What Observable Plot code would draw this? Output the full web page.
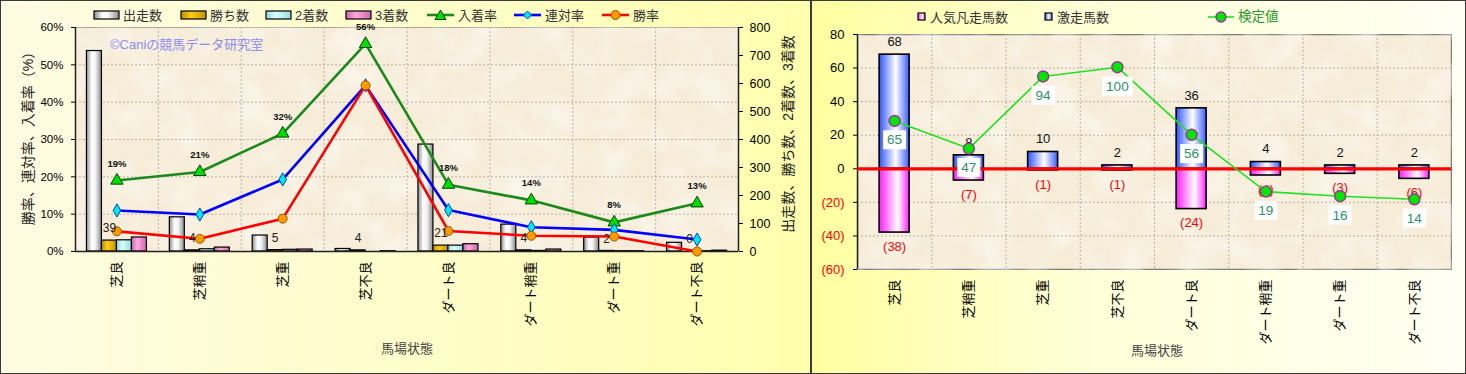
<!DOCTYPE html>
<html><head><meta charset="utf-8">
<script src="https://cdn.jsdelivr.net/npm/d3@7"></script>
<script src="https://cdn.jsdelivr.net/npm/@observablehq/plot@0.6"></script>
<style>
html,body{margin:0;padding:0;background:#fff;}
body{font-family:"Liberation Sans","Noto Sans CJK JP",sans-serif;}
#wrap{position:relative;width:1466px;height:374px;overflow:hidden;}
.panel{position:absolute;top:0;height:374px;}
.border{position:absolute;top:0;height:372px;border:1px solid #3a3a3a;pointer-events:none;}
.abs{position:absolute;white-space:nowrap;line-height:1;}
.rot{transform:translate(-50%,-50%) rotate(-90deg);}
.ctr{transform:translate(-50%,-50%);}
.leg{position:absolute;white-space:nowrap;font-size:13px;color:#333;line-height:1;display:flex;align-items:center;}
.leg svg{display:block;margin-right:3px;}
</style>
</head><body>
<svg width="0" height="0" style="position:absolute">
  <defs>
    <linearGradient id="gWhite" x1="0" x2="1" y1="0" y2="0">
      <stop offset="0" stop-color="#8c8c8c"/><stop offset="0.35" stop-color="#ffffff"/>
      <stop offset="0.6" stop-color="#f2f2f2"/><stop offset="1" stop-color="#8a8a8a"/>
    </linearGradient>
    <linearGradient id="gGold" x1="0" x2="1" y1="0" y2="0">
      <stop offset="0" stop-color="#b88d00"/><stop offset="0.4" stop-color="#ffcc1a"/>
      <stop offset="1" stop-color="#c29400"/>
    </linearGradient>
    <linearGradient id="gCyan" x1="0" x2="1" y1="0" y2="0">
      <stop offset="0" stop-color="#8fd8d8"/><stop offset="0.4" stop-color="#d8ffff"/>
      <stop offset="1" stop-color="#94dcdc"/>
    </linearGradient>
    <linearGradient id="gPink" x1="0" x2="1" y1="0" y2="0">
      <stop offset="0" stop-color="#cc66aa"/><stop offset="0.4" stop-color="#ffaadd"/>
      <stop offset="1" stop-color="#cc66aa"/>
    </linearGradient>
    <linearGradient id="gBlue" x1="0" x2="1" y1="0" y2="0">
      <stop offset="0" stop-color="#2f55ff"/><stop offset="0.55" stop-color="#ffffff"/>
      <stop offset="1" stop-color="#3a5cff"/>
    </linearGradient>
    <linearGradient id="gMag" x1="0" x2="1" y1="0" y2="0">
      <stop offset="0" stop-color="#ff1cff"/><stop offset="0.62" stop-color="#ffffff"/>
      <stop offset="1" stop-color="#ff22ff"/>
    </linearGradient>
    <filter id="paper" x="0" y="0" width="1" height="1">
      <feTurbulence type="fractalNoise" baseFrequency="0.03" numOctaves="3" seed="7" result="n"/>
      <feColorMatrix in="n" type="matrix" values="0 0 0 0 1  0 0 0 0 0.99  0 0 0 0 0.96  1.1 0 0 0 -0.42" result="spots"/>
      <feComposite in="spots" in2="SourceGraphic" operator="atop"/>
    </filter>
  </defs>
</svg>
<div id="wrap">
  <div class="panel" id="left" style="left:0;width:811px;background:linear-gradient(to right,#fffbe2 0%,#fffdc8 55%,#ffffae 100%);"></div>
  <div class="panel" id="right" style="left:811px;width:655px;background:linear-gradient(to right,#ffffa0 0%,#ffffd6 40%,#fffff4 100%);"></div>
</div>
<script>
// ---------- data ----------
const categories = ["芝良","芝稍重","芝重","芝不良","ダート良","ダート稍重","ダート重","ダート不良"];
// left chart: counts (right axis)
const starts  = [716, 122, 57, 9, 382, 96, 50, 31];   // 出走数
const wins    = [39, 4, 5, 4, 21, 4, 2, 0];           // 勝ち数
const seconds = [40, 8, 6, 0, 21, 2, 1, 1];           // 2着数
const thirds  = [50, 14, 7, 1, 26, 7, 1, 3];          // 3着数
// left chart: rates in % (left axis)
const showRate  = [19.0, 21.3, 31.6, 55.6, 17.9, 13.7, 7.8, 12.9]; // 入着率
const placeRate = [11.0, 9.9, 19.3, 44.5, 11.1, 6.5, 5.8, 3.2];    // 連対率
const winRate   = [5.4, 3.4, 8.8, 44.5, 5.5, 4.2, 4.0, 0];          // 勝率
const pctTicks   = [0, 10, 20, 30, 40, 50, 60];
const countTicks = [0, 100, 200, 300, 400, 500, 600, 700, 800];
// right chart
const upsets = [68, 8, 10, 2, 36, 4, 2, 2];       // 激走馬数
const flops  = [38, 7, 1, 1, 24, 4, 3, 6];        // 人気凡走馬数
const testValues = [65, 47, 94, 100, 56, 19, 16, 14]; // 検定値
const rightPosTicks = [0, 20, 40, 60, 80];
const rightNegTicks = [-20, -40, -60];

// ---------- helpers ----------
const FONT = '"Liberation Sans","Noto Sans CJK JP",sans-serif';
const countMax = 800, pctMax = 60;
const c2p = c => c * pctMax / countMax; // secondary (count) axis -> primary (%) axis
const GRID = "#b9b2a4";

const wrap = document.getElementById("wrap");
function addText(txt, x, y, cls, css) {
  const d = document.createElement("div");
  d.className = "abs " + cls;
  d.textContent = txt;
  d.style.left = x + "px"; d.style.top = y + "px";
  Object.assign(d.style, css || {});
  wrap.appendChild(d);
  return d;
}
function addLegend(x, y, svg, label, css) {
  const d = document.createElement("div");
  d.className = "leg";
  d.style.left = x + "px"; d.style.top = (y - 8) + "px"; d.style.height = "16px";
  d.innerHTML = svg + `<span>${label}</span>`;
  Object.assign(d.style, css || {});
  wrap.appendChild(d);
}
function texture(svg) {
  const f = svg.querySelector('[aria-label="frame"]');
  if (f) f.setAttribute("filter", "url(#paper)");
}

// ---------- LEFT CHART ----------
const L = {w: 811, h: 374, ml: 75, mr: 73, mt: 27, mb: 123};
const bwL = (L.w - L.ml - L.mr) / categories.length;
const rowsL = categories.map((c, i) => ({c, starts: starts[i], wins: wins[i], seconds: seconds[i], thirds: thirds[i],
  show: showRate[i], place: placeRate[i], win: winRate[i]}));
const subW = 15;
function subBar(key, idx, fill) {
  const left = bwL / 2 - 2 * subW + subW * idx;
  return Plot.barY(rowsL, {x: "c", y1: 0, y2: d => c2p(d[key]), fill, stroke: "#000", strokeWidth: 1.2,
    insetLeft: left, insetRight: bwL - left - subW});
}
const leftPlot = Plot.plot({
  width: L.w, height: L.h, marginLeft: L.ml, marginRight: L.mr, marginTop: L.mt, marginBottom: L.mb,
  style: {background: "transparent", fontFamily: FONT, fontSize: "12px", color: "#000", overflow: "visible"},
  x: {type: "band", domain: categories, padding: 0, round: false, axis: null},
  y: {domain: [0, pctMax], axis: null},
  marks: [
    Plot.frame({fill: "#f6ecd8", stroke: "#9a9a9a"}),
    Plot.gridY(pctTicks.slice(1), {stroke: GRID, strokeOpacity: 1, strokeDasharray: "2,2"}),
    Plot.ruleX(categories.slice(0, -1), {dx: bwL / 2, stroke: GRID, strokeDasharray: "2,2"}),
    subBar("starts", 0, "url(#gWhite)"),
    subBar("wins", 1, "url(#gGold)"),
    subBar("seconds", 2, "url(#gCyan)"),
    subBar("thirds", 3, "url(#gPink)"),
    Plot.ruleY([0], {stroke: "#222", strokeWidth: 1.5}),
    Plot.ruleX([categories[0]], {dx: -bwL / 2, stroke: "#222", strokeWidth: 1.5}),
    Plot.ruleX([categories[categories.length - 1]], {dx: bwL / 2, stroke: "#222", strokeWidth: 1.5}),
    Plot.axisY(pctTicks, {anchor: "left", tickFormat: d => d + "%", tickSize: 4, tickPadding: 8, fontSize: 11.5, label: null}),
    Plot.axisY(countTicks.map(c2p), {anchor: "right", tickFormat: d => String(Math.round(d * countMax / pctMax)), tickSize: 4, tickPadding: 7, fontSize: 12.5, label: null}),
    Plot.axisX({tickRotate: -90, tickSize: 0, tickPadding: 10, fontSize: 13, label: null}),
    Plot.line(rowsL, {x: "c", y: "show", stroke: "#1b8a1b", strokeWidth: 2.6}),
    Plot.dot(rowsL, {x: "c", y: "show", symbol: "triangle", r: 4.6, fill: "#00dd00", stroke: "#004400", strokeWidth: 1}),
    Plot.line(rowsL, {x: "c", y: "place", stroke: "#0000ff", strokeWidth: 2.6}),
    Plot.dot(rowsL, {x: "c", y: "place", symbol: "diamond", r: 4, fill: "#00e8f0", stroke: "#0044aa", strokeWidth: 1}),
    Plot.line(rowsL, {x: "c", y: "win", stroke: "#ff0000", strokeWidth: 2.6}),
    Plot.dot(rowsL, {x: "c", y: "win", r: 4.5, fill: "#ff9900", stroke: "#9a5a00", strokeWidth: 1}),
    Plot.text(rowsL, {x: "c", y: "show", text: d => Math.round(d.show) + "%", dy: -17, fontSize: 9.5, fontWeight: "bold", fill: "#111"}),
    Plot.text(rowsL, {x: "c", y: d => c2p(d.wins), text: d => String(d.wins), dx: -subW / 2, dy: -12, fontSize: 12, fill: "#222"})
  ]
});
texture(leftPlot);
document.getElementById("left").appendChild(leftPlot);

// left texts & legend
addText("©Caniの競馬データ研究室", 110, 38, "", {fontSize: "13px", color: "#8c8cf2"});
addText("勝率、連対率、入着率（%）", 28, 135, "rot", {fontSize: "14px", color: "#222"});
addText("出走数、勝ち数、2着数、3着数", 788, 134, "rot", {fontSize: "14px", color: "#222"});
addText("馬場状態", 407, 348, "ctr", {fontSize: "13px", color: "#444"});
const barSw = g => `<svg width="27" height="10"><rect x="1" y="1" width="25" height="8" fill="url(#${g})" stroke="#000" stroke-width="1.2"/></svg>`;
addLegend(93, 15, barSw("gWhite"), "出走数");
addLegend(180, 15, barSw("gGold"), "勝ち数");
addLegend(265, 15, barSw("gCyan"), "2着数");
addLegend(345, 15, barSw("gPink"), "3着数");
const lineSw = (col, marker) => `<svg width="29" height="14"><line x1="1" x2="28" y1="7" y2="7" stroke="${col}" stroke-width="2.6"/>${marker}</svg>`;
addLegend(426, 15, lineSw("#1b8a1b", `<path d="M14.5,2 L20,11.5 L9,11.5 Z" fill="#00dd00" stroke="#004400"/>`), "入着率");
addLegend(513, 15, lineSw("#0000ff", `<path d="M14.5,3 L18.5,7 L14.5,11 L10.5,7 Z" fill="#00e8f0" stroke="#0044aa"/>`), "連対率");
addLegend(601, 15, lineSw("#ff0000", `<circle cx="14.5" cy="7" r="4.5" fill="#ff9900" stroke="#9a5a00"/>`), "勝率");

// ---------- RIGHT CHART ----------
const R = {w: 655, h: 374, ml: 46, mr: 15, mt: 34, mb: 105};
const bwR = (R.w - R.ml - R.mr) / categories.length;
const barWR = 30;
const insR = (bwR - barWR) / 2;
const rowsR = categories.map((c, i) => ({c, up: upsets[i], flop: flops[i], tv: testValues[i]}));
const rightPlot = Plot.plot({
  width: R.w, height: R.h, marginLeft: R.ml, marginRight: R.mr, marginTop: R.mt, marginBottom: R.mb,
  style: {background: "transparent", fontFamily: FONT, fontSize: "13px", color: "#000", overflow: "visible"},
  x: {type: "band", domain: categories, padding: 0, round: false, axis: null},
  y: {domain: [-60, 80], axis: null},
  marks: [
    Plot.frame({fill: "#f6ecd8", stroke: "#7a7a7a", strokeWidth: 1.5}),
    Plot.gridY([-40, -20, 20, 40, 60], {stroke: GRID, strokeOpacity: 1, strokeDasharray: "2,2"}),
    Plot.ruleX(categories.slice(0, -1), {dx: bwR / 2, stroke: GRID, strokeDasharray: "2,2"}),
    Plot.ruleX([categories[0]], {dx: -bwR / 2, stroke: "#222", strokeWidth: 1.5}),
    Plot.barY(rowsR, {x: "c", y1: 0, y2: d => -d.flop, fill: "url(#gMag)", stroke: "#000", strokeWidth: 1.6, insetLeft: insR, insetRight: insR}),
    Plot.barY(rowsR, {x: "c", y1: 0, y2: "up", fill: "url(#gBlue)", stroke: "#000", strokeWidth: 1.6, insetLeft: insR, insetRight: insR}),
    Plot.ruleY([0], {stroke: "#ff0000", strokeWidth: 3.2}),
    Plot.axisY(rightPosTicks, {anchor: "left", tickSize: 4, tickPadding: 9, fontSize: 13, label: null}),
    Plot.axisY(rightNegTicks, {anchor: "left", tickSize: 4, tickPadding: 9, fontSize: 13, fill: "#ff0000", tickFormat: d => `(${-d})`, label: null}),
    Plot.axisX({tickRotate: -90, tickSize: 0, tickPadding: 10, fontSize: 13, label: null}),
    Plot.text(rowsR, {x: "c", y: "up", text: d => String(d.up), dy: -13, fontSize: 13, fill: "#111"}),
    Plot.text(rowsR, {x: "c", y: d => -d.flop, text: d => `(${d.flop})`, dy: 14, fontSize: 13, fill: "#ff0000"})
  ]
});
texture(rightPlot);
document.getElementById("right").appendChild(rightPlot);

// 検定値 on its own (hidden) secondary scale, overlaid with identical frame
const tvDomain = [-31.7, 121.3];
const overlay = Plot.plot({
  width: R.w, height: R.h, marginLeft: R.ml, marginRight: R.mr, marginTop: R.mt, marginBottom: R.mb,
  style: {background: "transparent", fontFamily: FONT, fontSize: "13px", position: "absolute", left: "0px", top: "0px", overflow: "visible"},
  x: {type: "band", domain: categories, padding: 0, round: false, axis: null},
  y: {domain: tvDomain, axis: null},
  marks: [
    Plot.line(rowsR, {x: "c", y: "tv", stroke: "#22e022", strokeWidth: 1.6}),
    Plot.dot(rowsR, {x: "c", y: "tv", r: 5.5, fill: "#00e600", stroke: "#993399", strokeWidth: 1.4}),
    Plot.text(rowsR, {x: "c", y: "tv", text: d => String(d.tv), dy: 19, fontSize: 13.5, fill: "#2f8f6a"})
  ]
});
document.getElementById("right").appendChild(overlay);
// white boxes behind the 検定値 labels
overlay.querySelectorAll('g[aria-label="text"] text').forEach(t => {
  const b = t.getBBox();
  const r = document.createElementNS("http://www.w3.org/2000/svg", "rect");
  r.setAttribute("x", b.x - 4); r.setAttribute("y", b.y - 2);
  r.setAttribute("width", b.width + 8); r.setAttribute("height", b.height + 4);
  r.setAttribute("fill", "#ffffff");
  const tr = t.getAttribute("transform");
  if (tr) r.setAttribute("transform", tr);
  t.parentNode.insertBefore(r, t);
});

// right texts & legend
addText("馬場状態", 1157, 350, "ctr", {fontSize: "13px", color: "#444"});
const sqSw = g => `<svg width="10" height="10"><rect x="1" y="1" width="7" height="7" fill="url(#${g})" stroke="#000" stroke-width="1.2"/></svg>`;
addLegend(917, 17, sqSw("gMag"), "人気凡走馬数");
addLegend(1044, 17, sqSw("gBlue"), "激走馬数");
addLegend(1208, 17, `<svg width="27" height="14"><line x1="0" x2="26" y1="7" y2="7" stroke="#22e022" stroke-width="1.6"/><circle cx="13" cy="7" r="5" fill="#00e600" stroke="#993399" stroke-width="1.4"/></svg>`, "検定値", {color: "#2a9a2a", fontSize: "13.5px"});

// panel borders
[[0, 809], [811, 653]].forEach(([x, w]) => {
  const b = document.createElement("div");
  b.className = "border"; b.style.left = x + "px"; b.style.width = w + "px";
  wrap.appendChild(b);
});
</script>
</body></html>
